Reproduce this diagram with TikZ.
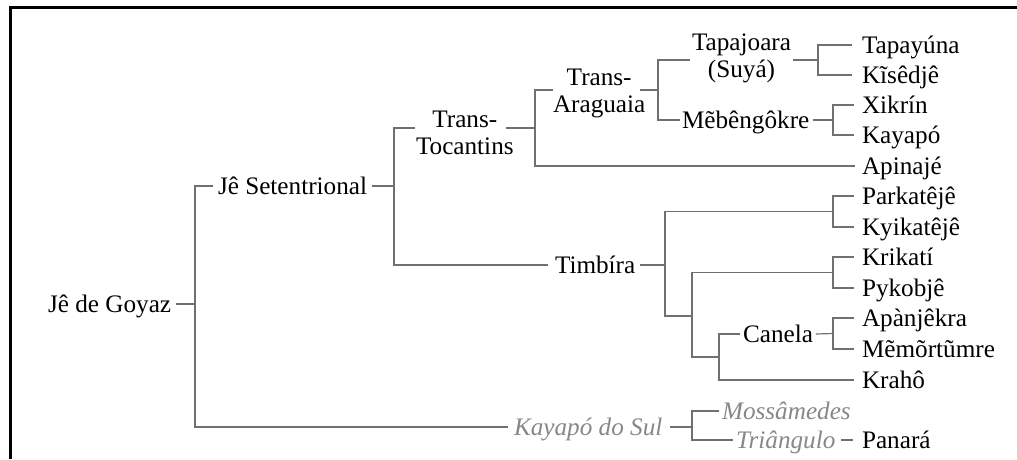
\documentclass[tikz,border=0pt]{standalone}
\usepackage{fontspec}
\setmainfont{Liberation Serif}
\definecolor{linegray}{RGB}{112,112,112}
\definecolor{txtgray}{RGB}{135,135,135}
\newcommand{\twoline}[2]{\begin{tabular}[t]{@{}c@{}}#1\\#2\end{tabular}}
\begin{document}
\begin{tikzpicture}[x=1pt,y=-1pt,
  every node/.style={inner sep=0pt, outer sep=0pt, font=\fontsize{25.2}{27}\selectfont},
  lbl/.style={anchor=west, text height=16pt, text depth=0pt},
  ml/.style={anchor=base west},
  gr/.style={text=txtgray, font=\fontsize{25.2}{27}\selectfont\itshape},
  ln/.style={draw=linegray, line width=1.2pt}]
\useasboundingbox (0,0) rectangle (1017,459);
\draw[line width=3pt] (10,459) -- (10,7) -- (1017,7);

% labels
\node[lbl] (goyaz) at (48,304) {Jê de Goyaz};
\node[lbl] (setent) at (218,186) {Jê Setentrional};
\node[ml] (tocant) at (416,127) {\twoline{Trans-}{Tocantins}};
\node[ml] (aragu) at (553,85) {\twoline{Trans-}{Araguaia}};
\node[ml] (tapaj) at (692,50) {\twoline{Tapajoara}{(Suyá)}};
\node[lbl] (mebe) at (682,120) {Mẽbêngôkre};
\node[lbl] (timbira) at (555,265) {Timbíra};
\node[lbl] (canela) at (743,334) {Canela};
\node[lbl,gr] (kdsul) at (514,427) {Kayapó do Sul};
\node[lbl,gr] (mossa) at (722,411) {Mossâmedes};
\node[lbl,gr] (triang) at (736,440) {Triângulo};

\node[lbl] (tapayuna) at (862,45) {Tapayúna};
\node[lbl] (kisedje) at (862,75) {Kĩsêdjê};
\node[lbl] (xikrin) at (862,105) {Xikrín};
\node[lbl] (kayapo) at (862,135) {Kayapó};
\node[lbl] (apinaje) at (862,166) {Apinajé};
\node[lbl] (parka) at (862,196) {Parkatêjê};
\node[lbl] (kyika) at (862,227) {Kyikatêjê};
\node[lbl] (krikati) at (862,257) {Krikatí};
\node[lbl] (pykob) at (862,288) {Pykobjê};
\node[lbl] (apanj) at (862,318) {Apànjêkra};
\node[lbl] (memort) at (862,349) {Mẽmõrtũmre};
\node[lbl] (kraho) at (862,380) {Krahô};
\node[lbl] (panara) at (862,440) {Panará};

% junctions
\coordinate (J0) at (195,304);
\coordinate (J1) at (394,186);
\coordinate (J2) at (535,128);
\coordinate (J3) at (658,90);
\coordinate (J4) at (818,60);
\coordinate (J5) at (833,120);
\coordinate (J6) at (665,265);
\coordinate (J7) at (833,211.5);
\coordinate (J8) at (692,316);
\coordinate (J9) at (833,272.5);
\coordinate (J10) at (719,357);
\coordinate (J11) at (833,333.5);
\coordinate (J12) at (692,427);

% connectors
\draw[ln] ([xshift=5pt]goyaz.east) -- (J0);
\draw[ln] ([xshift=-5pt]setent.west) -| (J0) |- ([xshift=-6pt]kdsul.west);

\draw[ln] ([xshift=5pt]setent.east) -- (J1);
\draw[ln] ([xshift=-1pt,yshift=-1pt]tocant.base west) -| (J1) |- ([xshift=-7pt]timbira.west);

\draw[ln] ([xshift=-8pt,yshift=-1pt]tocant.base east) -- (J2);
\draw[ln] ([yshift=-5pt]aragu.base west) -| (J2) |- ([xshift=-7pt]apinaje.west);

\draw[ln] ([xshift=-5pt,yshift=-5pt]aragu.base east) -- (J3);
\draw[ln] ([xshift=-2pt,yshift=-10pt]tapaj.base west) -| (J3) |- ([xshift=-2pt]mebe.west);

\draw[ln] ([xshift=2pt,yshift=-10pt]tapaj.base east) -- (J4);
\draw[ln] ([xshift=-10pt]tapayuna.west) -| (J4) |- ([xshift=-10pt]kisedje.west);

\draw[ln] ([xshift=4pt]mebe.east) -- (J5);
\draw[ln] ([xshift=-8pt]xikrin.west) -| (J5) |- ([xshift=-8pt]kayapo.west);

\draw[ln] ([xshift=5pt]timbira.east) -- (J6);
\draw[ln] (J7) -| (J6) |- (J8);
\draw[ln] ([xshift=-8pt]parka.west) -| (J7) |- ([xshift=-8pt]kyika.west);
\draw[ln] (J9) -| (J8) |- (J10);
\draw[ln] ([xshift=-8pt]krikati.west) -| (J9) |- ([xshift=-8pt]pykob.west);
\draw[ln] ([xshift=-3pt]canela.west) -| (J10) |- ([xshift=-8pt]kraho.west);
\draw[ln] ([xshift=3pt]canela.east) -- (J11);
\draw[ln] ([xshift=-8pt]apanj.west) -| (J11) |- ([xshift=-8pt]memort.west);

\draw[ln] ([xshift=8pt]kdsul.east) -- (J12);
\draw[ln] ([xshift=-3pt]mossa.west) -| (J12) |- ([xshift=-3pt]triang.west);
\draw[ln] ([xshift=6pt]triang.east) -- ([xshift=-9pt]panara.west);
\end{tikzpicture}
\end{document}
